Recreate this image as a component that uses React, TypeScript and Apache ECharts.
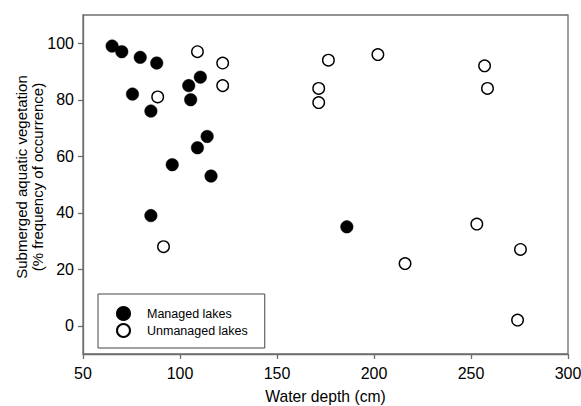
import React, { useEffect, useRef } from "react";
import * as echarts from "echarts";

const managedX = [65, 70, 79.5, 88, 75.5, 85, 104.5, 110.5, 105.5, 114, 109, 96, 116, 85, 186];
const managedY = [99, 97, 95, 93, 82, 76, 85, 88, 80, 67, 63, 57, 53, 39, 35];
const unmanagedX = [109, 122, 122, 88.5, 91.5, 176.5, 171.5, 171.5, 202, 257, 258.5, 253, 275.5, 216, 274];
const unmanagedY = [97, 93, 85, 81, 28, 94, 84, 79, 96, 92, 84, 36, 27, 22, 2];
const yTicks = [0, 20, 40, 60, 80, 100];
const seriesNames = ["Managed lakes", "Unmanaged lakes"];

const FONT = "'Liberation Sans', Arial, Helvetica, sans-serif";
const AXIS_COLOR = "#6e6e6e";

export default function App() {
  const ref = useRef<HTMLDivElement>(null);
  useEffect(() => {
    if (!ref.current) return;
    const chart = echarts.init(ref.current, null, { renderer: "svg" });
    const pair = (xs: number[], ys: number[]) => xs.map((x, i) => [x, ys[i]]);
    chart.setOption({
      animation: false,
      backgroundColor: "#fff",
      textStyle: { fontFamily: FONT },
      grid: {
        left: 83,
        right: 13,
        top: 15,
        bottom: 52,
        outerBoundsMode: "none",
        containLabel: false,
        show: true,
        borderColor: AXIS_COLOR,
        borderWidth: 1.3,
        backgroundColor: "transparent",
      },
      legend: {
        left: 98,
        top: 294,
        orient: "vertical",
        data: seriesNames,
        borderColor: "#444",
        borderWidth: 1,
        padding: [12, 17, 10, 18],
        itemWidth: 13,
        itemHeight: 13,
        itemGap: 2,
        textStyle: { fontFamily: FONT, fontSize: 12.5, color: "#000", padding: [0, 0, 0, 12] },
      },
      xAxis: {
        type: "value",
        min: 50,
        max: 300,
        interval: 50,
        name: "Water depth (cm)",
        nameLocation: "middle",
        nameGap: 34,
        nameMoveOverlap: false,
        nameTextStyle: { fontFamily: FONT, fontSize: 15.7, color: "#000" },
        axisLine: { show: true, onZero: false, lineStyle: { color: AXIS_COLOR, width: 1.3 } },
        axisTick: { show: true, length: 5, lineStyle: { color: AXIS_COLOR, width: 1.3 } },
        axisLabel: { fontFamily: FONT, fontSize: 16, color: "#000", margin: 11 },
        splitLine: { show: false },
      },
      yAxis: {
        type: "value",
        min: -10,
        max: 110,
        name: "Submerged aquatic vegetation\n(% frequency of occurrence)",
        nameLocation: "middle",
        nameGap: 38,
        nameMoveOverlap: false,
        nameTextStyle: { fontFamily: FONT, fontSize: 15, color: "#000", lineHeight: 16, padding: [0, 0, 0, 15] },
        axisLine: { show: true, onZero: false, lineStyle: { color: AXIS_COLOR, width: 1.3 } },
        axisTick: { show: true, length: 5, customValues: yTicks, lineStyle: { color: AXIS_COLOR, width: 1.3 } },
        axisLabel: { fontFamily: FONT, fontSize: 16, color: "#000", margin: 9, customValues: yTicks },
        splitLine: { show: false },
      },
      series: [
        {
          name: seriesNames[0],
          type: "scatter",
          data: pair(managedX, managedY),
          symbol: "circle",
          symbolSize: 12.5,
          itemStyle: { color: "#000", borderColor: "#000", borderWidth: 0.5, opacity: 1 },
        },
        {
          name: seriesNames[1],
          type: "scatter",
          data: pair(unmanagedX, unmanagedY),
          symbol: "circle",
          symbolSize: 11.5,
          itemStyle: { color: "#fff", borderColor: "#000", borderWidth: 1.4, opacity: 1 },
        },
      ],
    });
    return () => chart.dispose();
  }, []);
  return <div ref={ref} style={{ width: 581, height: 406, position: "absolute", left: 0, top: 0 }} />;
}
